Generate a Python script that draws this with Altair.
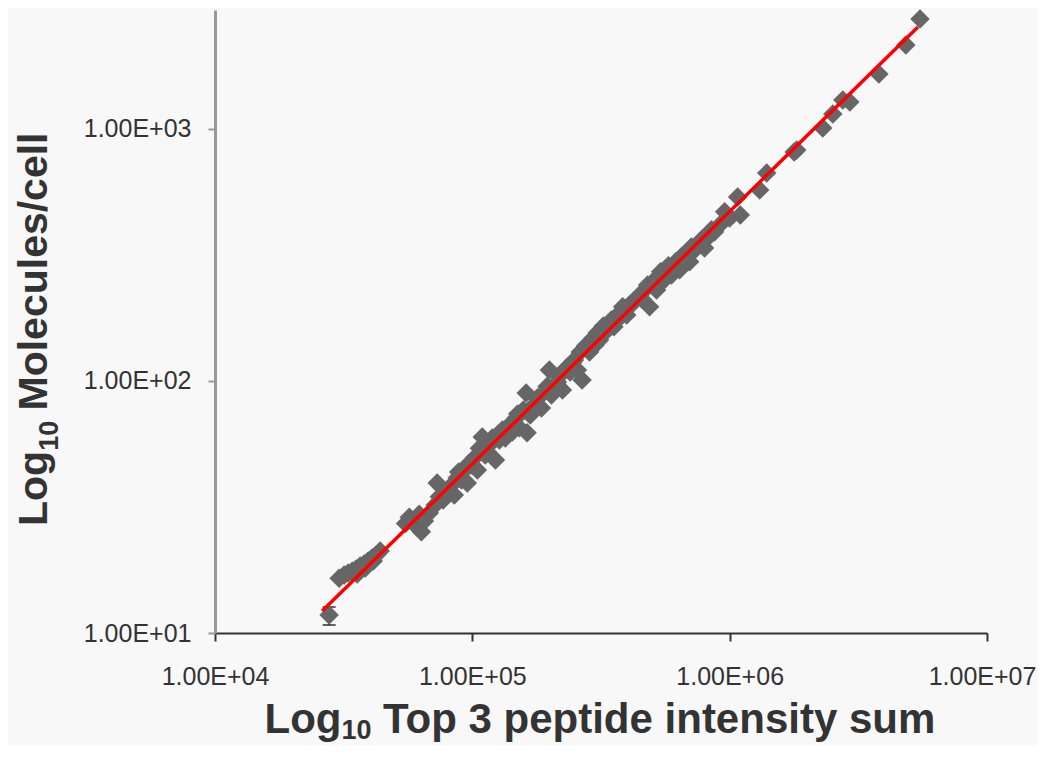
import altair as alt
import pandas as pd

# ---- data ----
x_intensity = [27770, 30370, 31770, 32930, 34120, 35380, 36670, 38000, 39380, 40820, 42310, 43850, 35700, 38350, 41200,
               56900, 59000, 61100, 63400, 65100, 62200, 68000, 71700, 74400, 73000,
               77000, 80000, 83000, 85100, 87400, 90700, 93100, 95600, 99000, 101800,
               104600, 106500, 109300, 112300, 116400, 119600, 123000, 127400, 130900, 134400,
               139300, 143100, 148200, 152300, 157900, 161900, 163200, 167900, 174300, 179000,
               185600, 190600, 199300, 203000, 210300, 218000, 224000, 232000, 240000, 249400,
               256000, 267000, 262700, 275000, 285300, 294700, 305800, 312000, 323000, 335000,
               347000, 360000, 373300, 384000, 398000, 408000, 427000, 446500, 467000, 488300,
               480000, 502000, 520000, 539000, 558000, 578000, 594000, 618000, 639000, 668000,
               699000, 731000, 764000, 799000, 836000, 874000, 914000, 956000, 1000000, 1074000,
               1100000, 1308000, 1393000, 1780000, 1823000, 2300000, 2517000, 2753000, 2930000, 3800000,
               4840000, 5490000,
               55000, 76000, 88500, 97000, 114000, 126000, 137000, 150000, 171000, 195000,
               214000, 245000, 280000, 300000, 330000, 355000, 420000, 455000, 510000, 545000,
               600000, 650000, 710000, 780000, 850000]
y_molecules = [11.8, 16.5, 17.0, 17.3, 17.6, 17.95, 18.45, 18.8, 19.3, 19.85, 20.4, 21.15, 17.15, 18.1, 19.3,
               28.8, 27.6, 26.3, 25.2, 27.8, 29.6, 29.9, 32.2, 34.7, 39.4,
               33.7, 36.9, 38.6, 35.3, 41.3, 40.5, 44.3, 39.4, 46.4, 49.5,
               44.3, 54.1, 59.9, 50.8, 55.7, 59.4, 48.6, 58.3, 63.9, 59.4,
               66.9, 62.8, 71.3, 65.2, 76.7, 89.6, 62.3, 73.3, 80.3, 85.6,
               78.1, 90.4, 110.6, 88.0, 96.4, 104.7, 92.1, 112.7, 108.6, 121.1,
               110.6, 100.9, 130.4, 137.8, 130.4, 148.2, 155.2, 145.5, 165.1, 159.4,
               174.6, 171.4, 186.1, 196.9, 182.7, 200.2, 209.6, 217.7, 229.6, 196.9,
               240.5, 247.3, 229.6, 271.2, 252.0, 286.8, 263.2, 297.5, 276.2, 316.2,
               297.5, 331, 353, 337, 376.6, 391, 416, 469, 443, 537,
               456, 573, 669, 810, 825, 1009, 1147, 1303, 1280, 1653,
               2154, 2733,
               27.2, 35.0, 43.5, 47.0, 52.5, 61.5, 63.0, 74.0, 78.5, 95.0,
               99.0, 118, 135, 139, 160, 164, 203, 212, 245, 262,
               280, 312, 340, 365, 398]

fit_x = [26080, 5390000]
fit_y = [12.22, 2540]

err_x = [27770]
err_lo = [10.76]
err_hi = [12.68]

x_ticks = [1e4, 1e5, 1e6, 1e7]
y_ticks = [10, 100, 1000]

x_title_parts = ["Log", "10", "Top 3 peptide intensity sum"]
y_title_parts = ["Log", "10", "Molecules/cell"]

pts = pd.DataFrame({"x": x_intensity, "y": y_molecules})
fit = pd.DataFrame({"x": fit_x, "y": fit_y})
err = pd.DataFrame({"x": err_x, "lo": err_lo, "hi": err_hi})
caps = pd.DataFrame({"x": err_x * 2, "y": err_lo + err_hi})

FONT = "Liberation Sans"
TXT = "#333333"
label_expr = "replace(format(datum.value, '.2e'), 'e+', 'E+0')"

xscale = alt.Scale(type="log", domain=[1e4, 1e7], nice=False)
yscale = alt.Scale(type="log", domain=[10, 2965], nice=False)

xaxis = alt.Axis(values=x_ticks, labelExpr=label_expr, grid=False, title=None,
                 domainColor="#333333", domainWidth=2, tickColor="#333333", tickWidth=2, tickSize=8,
                 labelFont=FONT, labelFontSize=25, labelColor=TXT, labelPadding=23,
                 labelOffset={"condition": {"test": "datum.value >= 9000000", "value": -5}, "value": 0},
                 labelBaseline="top", labelFlush=False, labelOverlap=False)
yaxis = alt.Axis(values=y_ticks, labelExpr=label_expr, grid=False, title=None,
                 domainColor="#999999", domainWidth=3, tickColor="#999999", tickWidth=2, tickSize=7,
                 labelFont=FONT, labelFontSize=25, labelColor=TXT, labelPadding=17,
                 labelBaseline="middle", labelFlush=False, labelOverlap=False)

points = alt.Chart(pts).mark_point(shape="diamond", filled=True, size=380, color="#666666", opacity=1).encode(
    x=alt.X("x:Q", scale=xscale, axis=xaxis),
    y=alt.Y("y:Q", scale=yscale, axis=yaxis),
)
errbar = alt.Chart(err).mark_rule(color="#222222", strokeWidth=1.5).encode(
    x=alt.X("x:Q", scale=xscale), y=alt.Y("lo:Q", scale=yscale), y2="hi:Q")
errcaps = alt.Chart(caps).mark_tick(orient="horizontal", color="#222222", thickness=2, size=13).encode(
    x=alt.X("x:Q", scale=xscale), y=alt.Y("y:Q", scale=yscale))
line = alt.Chart(fit).mark_line(color="#ff0000", strokeWidth=3.5).encode(
    x=alt.X("x:Q", scale=xscale), y=alt.Y("y:Q", scale=yscale))


def title_text(part, size, px, py, angle=0):
    df = pd.DataFrame({"t": [part]})
    return alt.Chart(df).mark_text(
        font=FONT, fontSize=size, fontWeight="bold", color=TXT,
        align="left", baseline="alphabetic", angle=angle,
    ).encode(text="t:N", x=alt.value(px), y=alt.value(py))


# x-axis title pieces (main 42px, subscript 27px)
xt = [
    title_text(x_title_parts[0], 42, 49.5, 723),
    title_text(x_title_parts[1], 27, 126.5, 729),
    title_text(x_title_parts[2], 42, 168, 723),
]
# y-axis title pieces, rotated
yt = [
    title_text(y_title_parts[0], 41, -168, 516, 270),
    title_text(y_title_parts[1], 27, -157, 440.8, 270),
    title_text(y_title_parts[2], 41, -168, 400.5, 270),
]

chart = alt.layer(errbar, errcaps, points, line, *xt, *yt).properties(
    width=772, height=623,
    autosize=alt.AutoSizeParams(type="none"),
    padding={"left": 207, "top": 2, "right": 50, "bottom": 112},
    background="#f8f8f8",
).configure_view(stroke=None)

chart.save("out.html", embed_options={"renderer": "svg", "actions": False})
